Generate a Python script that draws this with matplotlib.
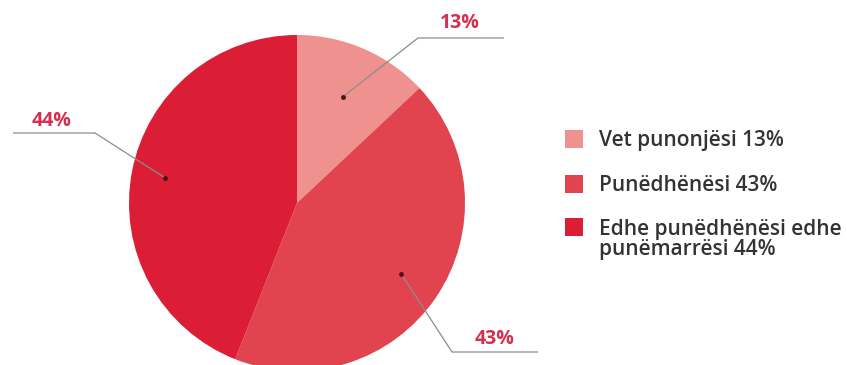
import numpy as np
import matplotlib
matplotlib.use("Agg")
import matplotlib.pyplot as plt
from matplotlib.patches import Rectangle

plt.rcParams["font.family"] = ["Open Sans", "DejaVu Sans"]

# shares of the survey answers (percent)
values = [13, 43, 44]
pct_labels = ["13%", "43%", "44%"]
legend_labels = ["Vet punonjësi 13%", "Punëdhënësi 43%",
                 "Edhe punëdhënësi edhe\npunëmarrësi 44%"]
colors = ["#EF918E", "#E1444F", "#DB1E36"]

W, H = 847, 365
fig = plt.figure(figsize=(W / 100, H / 100), dpi=100)
ax = fig.add_axes([0, 0, 1, 1])

# pie in pixel-like coordinates (y measured upward)
cx, cy, r = 297, H - 203, 168
wedges, _ = ax.pie(values, colors=colors, startangle=90, counterclock=False,
                   center=(cx, cy), radius=r,
                   wedgeprops=dict(linewidth=0))
ax.set_xlim(0, W)
ax.set_ylim(0, H)
ax.set_aspect("auto")
ax.axis("off")

# leader lines: dot inside wedge -> elbow -> horizontal underline
dot_frac = [0.69, 0.75, 0.80]
elbows = [((418, 38), (504, 38)),
          ((452, 352), (538, 352)),
          ((95, 133), (13, 133))]
label_pos = [(460, 23), (495, 339), (52, 121)]
line_col = "#8c8c8c"
for w, frac, (elb, end), (lx, ly), txt in zip(wedges, dot_frac, elbows,
                                              label_pos, pct_labels):
    mid = np.deg2rad((w.theta1 + w.theta2) / 2)
    dx = cx + frac * r * np.cos(mid)
    dy = cy + frac * r * np.sin(mid)
    ax.plot([dx, elb[0], end[0]], [dy, H - elb[1], H - end[1]],
            color=line_col, lw=0.9, solid_capstyle="butt")
    ax.plot(dx, dy, "o", color="#4a1418", ms=2.5)
    ax.text(lx, H - ly, txt, color="#D4304F", fontsize=14,
            fontweight="bold", ha="center", va="center")

# legend drawn by hand so the square sits beside the first text line
sq = 18
rows = [139, 184, 227]
line_h = 21
for y, c, lab in zip(rows, colors, legend_labels):
    ax.add_patch(Rectangle((565, H - y - sq / 2), sq, sq, color=c, lw=0))
    # baseline refers to the last line, so push multi-line labels down
    shift = 7.4 + line_h * lab.count("\n")
    ax.text(599, H - y - shift, lab, color="#333333", fontsize=15,
            fontweight="semibold", ha="left", va="baseline",
            linespacing=0.96)

fig.savefig("out.png", dpi=100, facecolor="white")
